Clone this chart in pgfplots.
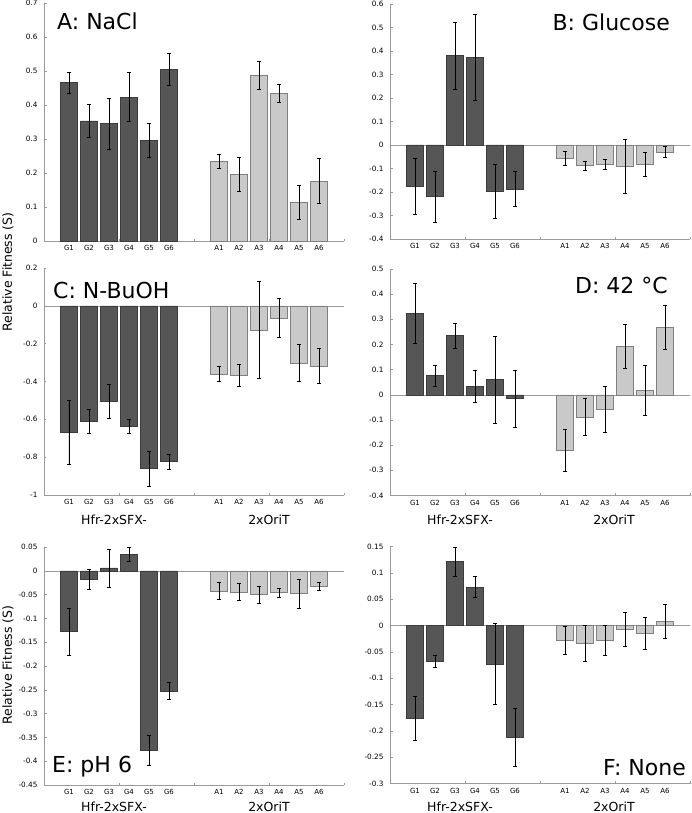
\documentclass[border=0pt]{standalone}
\usepackage{fontspec}
\setmainfont{DejaVu Sans}
\usepackage{pgfplots}
\usepackage{pgfplotstable}
\pgfplotsset{compat=1.18}
\definecolor{axisgray}{HTML}{9A9A9A}
\definecolor{darkfill}{HTML}{565656}
\definecolor{darkedge}{HTML}{3C3C3C}
\definecolor{lightfill}{HTML}{C9C9C9}
\definecolor{lightedge}{HTML}{808080}

% panel A: NaCl
\pgfplotstableread{
x y e
1.25 0.466 0.031
2.25 0.353 0.049
3.25 0.345 0.075
4.25 0.423 0.072
5.25 0.297 0.050
6.25 0.504 0.047
}\AG
\pgfplotstableread{
x y e
8.75 0.235 0.021
9.75 0.197 0.050
10.75 0.487 0.042
11.75 0.435 0.026
12.75 0.113 0.050
13.75 0.176 0.066
}\AA
% panel B: Glucose
\pgfplotstableread{
x y e
1.25 -0.177 0.119
2.25 -0.220 0.107
3.25 0.380 0.142
4.25 0.373 0.183
5.25 -0.197 0.115
6.25 -0.187 0.074
}\BG
\pgfplotstableread{
x y e
8.75 -0.057 0.031
9.75 -0.088 0.020
10.75 -0.082 0.021
11.75 -0.091 0.115
12.75 -0.082 0.051
13.75 -0.030 0.024
}\BA
% panel C: N-BuOH
\pgfplotstableread{
x y e
1.25 -0.670 0.170
2.25 -0.609 0.062
3.25 -0.504 0.088
4.25 -0.635 0.038
5.25 -0.861 0.092
6.25 -0.823 0.039
}\CG
\pgfplotstableread{
x y e
8.75 -0.360 0.038
9.75 -0.367 0.058
10.75 -0.128 0.257
11.75 -0.063 0.102
12.75 -0.302 0.098
13.75 -0.318 0.092
}\CA
% panel D: 42 C
\pgfplotstableread{
x y e
1.25 0.323 0.119
2.25 0.076 0.043
3.25 0.235 0.048
4.25 0.033 0.063
5.25 0.060 0.171
6.25 -0.015 0.114
}\DG
\pgfplotstableread{
x y e
8.75 -0.221 0.083
9.75 -0.088 0.073
10.75 -0.057 0.093
11.75 0.193 0.086
12.75 0.018 0.101
13.75 0.268 0.086
}\DA
% panel E: pH 6
\pgfplotstableread{
x y e
1.25 -0.128 0.049
2.25 -0.018 0.021
3.25 0.006 0.040
4.25 0.0345 0.014
5.25 -0.377 0.032
6.25 -0.252 0.017
}\EG
\pgfplotstableread{
x y e
8.75 -0.042 0.018
9.75 -0.044 0.018
10.75 -0.050 0.018
11.75 -0.046 0.010
12.75 -0.048 0.031
13.75 -0.032 0.008
}\EA
% panel F: None
\pgfplotstableread{
x y e
1.25 -0.176 0.042
2.25 -0.068 0.012
3.25 0.1215 0.028
4.25 0.073 0.020
5.25 -0.073 0.077
6.25 -0.213 0.055
}\FG
\pgfplotstableread{
x y e
8.75 -0.028 0.027
9.75 -0.034 0.034
10.75 -0.028 0.029
11.75 -0.007 0.033
12.75 -0.015 0.031
13.75 0.008 0.032
}\FA

\pgfplotsset{
  panel/.style={
    scale only axis, width=300pt,
    xmin=0, xmax=15,
    axis x line=bottom, axis y line=left,
    axis line style={-, draw=axisgray, line width=0.6pt},
    tick align=inside, major tick length=2.5pt,
    tick style={axisgray, line width=0.6pt},
    xtick={0,3.75,7.5,11.25,15}, xticklabels={},
    extra x ticks={1.25,2.25,3.25,4.25,5.25,6.25,8.75,9.75,10.75,11.75,12.75,13.75},
    extra x tick labels={G1,G2,G3,G4,G5,G6,A1,A2,A3,A4,A5,A6},
    extra x tick style={major tick length=0pt,
      xticklabel style={font=\fontsize{7}{8}\selectfont, yshift=-1pt}},
    yticklabel style={font=\fontsize{7.3}{8}\selectfont, xshift=-3pt},
    anchor=south west,
  },
  dbar/.style={ybar, bar width=0.83, bar shift=0pt, fill=darkfill, draw=darkedge, line width=0.5pt,
    error bars/.cd, y dir=both, y explicit,
    error bar style={black, line width=0.5pt},
    error mark options={rotate=90, mark size=1.7pt, black, line width=0.5pt}},
  lbar/.style={ybar, bar width=0.83, bar shift=0pt, fill=lightfill, draw=lightedge, line width=0.5pt,
    error bars/.cd, y dir=both, y explicit,
    error bar style={black, line width=0.5pt},
    error mark options={rotate=90, mark size=1.7pt, black, line width=0.5pt}},
  zeroline/.style={axisgray, line width=0.6pt, no marks, forget plot},
}

\begin{document}
\begin{tikzpicture}
\tikzset{ttl/.style={font=\fontsize{22}{26}\selectfont, inner sep=0pt},
         grp/.style={font=\fontsize{12.5}{14}\selectfont, inner sep=0pt},
         yl/.style={font=\fontsize{12.5}{14}\selectfont, rotate=90, inner sep=0pt}}

% A
\begin{axis}[panel, at={(44pt,-241pt)}, height=238pt, ymin=0, ymax=0.7,
  ytick={0,0.1,0.2,0.3,0.4,0.5,0.6,0.7}, yticklabels={0,0.1,0.2,0.3,0.4,0.5,0.6,0.7}]
\addplot[dbar] table[x=x, y=y, y error=e] {\AG};
\addplot[lbar] table[x=x, y=y, y error=e] {\AA};
\end{axis}

% B
\begin{axis}[panel, at={(390pt,-239pt)}, height=235pt, ymin=-0.4, ymax=0.6,
  ytick={-0.4,-0.3,-0.2,-0.1,0,0.1,0.2,0.3,0.4,0.5,0.6},
  yticklabels={-0.4,-0.3,-0.2,-0.1,0,0.1,0.2,0.3,0.4,0.5,0.6}]
\addplot[zeroline] coordinates {(0,0) (15,0)};
\addplot[dbar] table[x=x, y=y, y error=e] {\BG};
\addplot[lbar] table[x=x, y=y, y error=e] {\BA};
\end{axis}

% C
\begin{axis}[panel, at={(44pt,-495pt)}, height=227pt, ymin=-1, ymax=0.2,
  ytick={-1,-0.8,-0.6,-0.4,-0.2,0,0.2},
  yticklabels={-1,-0.8,-0.6,-0.4,-0.2,0,0.2}]
\addplot[zeroline] coordinates {(0,0) (15,0)};
\addplot[dbar] table[x=x, y=y, y error=e] {\CG};
\addplot[lbar] table[x=x, y=y, y error=e] {\CA};
\end{axis}

% D
\begin{axis}[panel, at={(390pt,-495.5pt)}, height=226.5pt, ymin=-0.4, ymax=0.5,
  ytick={-0.4,-0.3,-0.2,-0.1,0,0.1,0.2,0.3,0.4,0.5},
  yticklabels={-0.4,-0.3,-0.2,-0.1,0,0.1,0.2,0.3,0.4,0.5}]
\addplot[zeroline] coordinates {(0,0) (15,0)};
\addplot[dbar] table[x=x, y=y, y error=e] {\DG};
\addplot[lbar] table[x=x, y=y, y error=e] {\DA};
\end{axis}

% E
\begin{axis}[panel, at={(44pt,-785pt)}, height=238pt, ymin=-0.45, ymax=0.05,
  ytick={-0.45,-0.4,-0.35,-0.3,-0.25,-0.2,-0.15,-0.1,-0.05,0,0.05},
  yticklabels={-0.45,-0.4,-0.35,-0.3,-0.25,-0.2,-0.15,-0.1,-0.05,0,0.05}]
\addplot[zeroline] coordinates {(0,0) (15,0)};
\addplot[dbar] table[x=x, y=y, y error=e] {\EG};
\addplot[lbar] table[x=x, y=y, y error=e] {\EA};
\end{axis}

% F
\begin{axis}[panel, at={(390pt,-783.5pt)}, height=237pt, ymin=-0.3, ymax=0.15,
  ytick={-0.3,-0.25,-0.2,-0.15,-0.1,-0.05,0,0.05,0.1,0.15},
  yticklabels={-0.3,-0.25,-0.2,-0.15,-0.1,-0.05,0,0.05,0.1,0.15}]
\addplot[zeroline] coordinates {(0,0) (15,0)};
\addplot[dbar] table[x=x, y=y, y error=e] {\FG};
\addplot[lbar] table[x=x, y=y, y error=e] {\FA};
\end{axis}

% titles
\node[ttl, anchor=base west] at (57pt,-30pt) {A: NaCl};
\node[ttl, anchor=base east] at (670pt,-31pt) {B: Glucose};
\node[ttl, anchor=base west] at (53pt,-298pt) {C: N-BuOH};
\node[ttl, anchor=base east] at (668pt,-293pt) {D: 42 °C};
\node[ttl, anchor=base west] at (52pt,-772pt) {E: pH 6};
\node[ttl, anchor=base east] at (686pt,-775pt) {F: None};

% group labels
\node[grp, anchor=base] at (114pt,-524pt) {Hfr-2xSFX-};
\node[grp, anchor=base] at (269pt,-524pt) {2xOriT};
\node[grp, anchor=base] at (460pt,-524pt) {Hfr-2xSFX-};
\node[grp, anchor=base] at (614pt,-524pt) {2xOriT};
\node[grp, anchor=base] at (114pt,-811pt) {Hfr-2xSFX-};
\node[grp, anchor=base] at (269pt,-811pt) {2xOriT};
\node[grp, anchor=base] at (460pt,-811pt) {Hfr-2xSFX-};
\node[grp, anchor=base] at (614pt,-811pt) {2xOriT};

% y labels
\node[yl] at (8pt,-272pt) {Relative Fitness (S)};
\node[yl] at (8pt,-665pt) {Relative Fitness (S)};

\pgfresetboundingbox
\path[use as bounding box] (0pt,0pt) rectangle (691pt,-813pt);
\end{tikzpicture}
\end{document}
